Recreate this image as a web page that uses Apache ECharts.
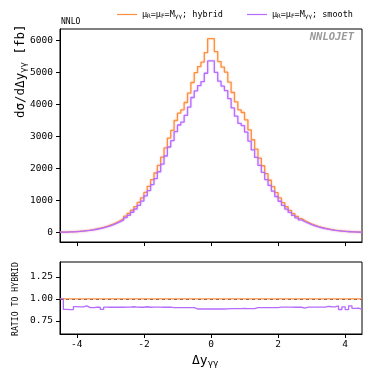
<!DOCTYPE html>
<html>
<head>
<meta charset="utf-8">
<script src="https://cdn.jsdelivr.net/npm/echarts@6/dist/echarts.min.js"></script>
<style>
html,body{margin:0;padding:0;background:#fff;}
#chart{width:374px;height:382px;}
</style>
</head>
<body>
<div id="chart"></div>
<script>
// ---- data ----
// bins of width 0.1 from -4.5 to 4.5 (90 bins)
const binLow = -4.5;
const binWidth = 0.1;
const nBins = 90;
// dσ/dΔy_γγ [fb], hybrid scale choice
const hybrid = [
  7, 10, 14, 19, 25, 33, 43, 55, 69, 86,
  106, 130, 158, 190, 226, 268, 315, 370, 430, 505,
  590, 690, 805, 935, 1080, 1250, 1440, 1647, 1856, 2094,
  2356, 2640, 2950, 3188, 3500, 3731, 3834, 4063, 4356, 4688,
  5000, 5188, 5325, 5625, 6060,
  6060, 5656, 5344, 5170, 5013, 4700, 4375, 4084, 3834, 3750,
  3522, 3209, 2897, 2606, 2325, 2084, 1834, 1630, 1430, 1245,
  1075, 930, 800, 688, 588, 502, 430, 370, 316, 268,
  226, 190, 158, 131, 107, 87, 70, 55, 43, 33,
  26, 19, 14, 10, 7
];
// dσ/dΔy_γγ [fb], smooth scale choice
const smooth = [
  7, 8.8, 12.3, 16.7, 22.8, 30.0, 39.1, 50.6, 62.1, 77.4,
  95.9, 117.7, 139, 172, 204.5, 242.5, 285, 335, 389, 457,
  534, 628, 729, 846, 977, 1138, 1303, 1491, 1680, 1895,
  2132, 2389, 2670, 2869, 3150, 3358, 3451, 3657, 3920, 4219,
  4425, 4591, 4713, 4978, 5363,
  5363, 5006, 4729, 4575, 4437, 4183, 3894, 3635, 3412, 3338,
  3135, 2856, 2578, 2345, 2093, 1876, 1651, 1467, 1287, 1121,
  973, 842, 724, 623, 532, 454, 389, 331, 286, 243,
  205, 172, 143, 118.6, 97.9, 79.2, 63.7, 50.6, 37.8, 30.0,
  22.8, 17.5, 12.5, 8.95, 6.16
];
const xTicks = [-4, -2, 0, 2, 4];
const yTicksMain = [0, 1000, 2000, 3000, 4000, 5000, 6000];
const yTicksRatio = [0.75, 1.00, 1.25];

// ---- build ----
const edges = [];
for (let i = 0; i <= nBins; i++) edges.push(+(binLow + i * binWidth).toFixed(2));
function stepPts(vals) {
  const pts = vals.map((v, i) => [edges[i], v]);
  pts.push([edges[nBins], vals[nBins - 1]]);
  return pts;
}
const ratioHybrid = hybrid.map((v, i) => v / hybrid[i]);
const ratioSmooth = smooth.map((v, i) => v / hybrid[i]);

const ORANGE = '#ff8f3f';
const PURPLE = '#b56cff';
const FONT = 'DejaVu Sans Mono';

const chart = echarts.init(document.getElementById('chart'), null, {renderer: 'canvas'});

const legendRich = {
  a: {fontFamily: FONT, fontSize: 8.5, color: '#000'},
  s: {fontFamily: FONT, fontSize: 6, color: '#000', verticalAlign: 'bottom', padding: [4, 0, 0, 0]}
};

const option = {
  animation: false,
  backgroundColor: '#fff',
  legend: {
    top: 5, left: 112,
    itemWidth: 20, itemHeight: 8, itemGap: 24,
    icon: 'path://M0,3.4L20,3.4L20,4.6L0,4.6Z',
    textStyle: {fontFamily: FONT, fontSize: 8.5, rich: legendRich},
    data: ['hybrid', 'smooth'],
    formatter: function (n) {
      return '{a|μ}{s|R}{a|=μ}{s|F}{a|=M}{s|γγ}{a|; ' + n + '}';
    }
  },
  grid: [
    {left: 60, top: 29, width: 302, height: 213, show: true, borderColor: '#000', borderWidth: 1, backgroundColor: 'transparent'},
    {left: 60, top: 262, width: 302, height: 72, show: true, borderColor: '#000', borderWidth: 1, backgroundColor: 'transparent'}
  ],
  xAxis: [
    {gridIndex: 0, type: 'value', min: -4.5, max: 4.5,
     axisLine: {show: true, onZero: false, lineStyle: {color: '#000'}},
     axisTick: {show: true, length: 4, customValues: xTicks, lineStyle: {color: '#000'}},
     axisLabel: {show: false, customValues: xTicks},
     splitLine: {show: false}},
    {gridIndex: 1, type: 'value', min: -4.5, max: 4.5,
     axisLine: {show: true, onZero: false, lineStyle: {color: '#000'}},
     axisTick: {show: true, length: 4, customValues: xTicks, lineStyle: {color: '#000'}},
     axisLabel: {show: true, customValues: xTicks, fontFamily: FONT, fontSize: 9.5, color: '#000', margin: 6,
                 formatter: v => String(v)},
     splitLine: {show: false}}
  ],
  yAxis: [
    {gridIndex: 0, type: 'value', min: -303, max: 6363,
     axisLine: {show: true, onZero: false, lineStyle: {color: '#000'}},
     axisTick: {show: true, length: 4, customValues: yTicksMain, lineStyle: {color: '#000'}},
     axisLabel: {show: true, customValues: yTicksMain, fontFamily: FONT, fontSize: 9.5, color: '#000', margin: 7,
                 formatter: v => String(v)},
     splitLine: {show: false}},
    {gridIndex: 1, type: 'value', min: 0.6, max: 1.42,
     axisLine: {show: true, onZero: false, lineStyle: {color: '#000'}},
     axisTick: {show: true, length: 4, customValues: yTicksRatio, lineStyle: {color: '#000'}},
     axisLabel: {show: true, customValues: yTicksRatio, fontFamily: FONT, fontSize: 9.5, color: '#000', margin: 7,
                 formatter: v => v.toFixed(2)},
     splitLine: {show: false}}
  ],
  series: [
    {name: 'hybrid', type: 'line', xAxisIndex: 0, yAxisIndex: 0, step: 'end', showSymbol: false,
     data: stepPts(hybrid), color: ORANGE,
     lineStyle: {color: ORANGE, width: 1.3, shadowColor: 'rgba(255,143,63,0.45)', shadowBlur: 2}},
    {name: 'smooth', type: 'line', xAxisIndex: 0, yAxisIndex: 0, step: 'end', showSymbol: false,
     data: stepPts(smooth), color: PURPLE,
     lineStyle: {color: PURPLE, width: 1.3, shadowColor: 'rgba(181,108,255,0.45)', shadowBlur: 2}},
    {name: 'hybrid', type: 'line', xAxisIndex: 1, yAxisIndex: 1, step: 'end', showSymbol: false,
     data: stepPts(ratioHybrid), color: ORANGE,
     lineStyle: {color: ORANGE, width: 1.3},
     markLine: {silent: true, symbol: 'none', label: {show: false},
                lineStyle: {color: 'rgba(110,70,50,0.7)', type: [3, 3], width: 1},
                data: [{yAxis: 1}]}},
    {name: 'smooth', type: 'line', xAxisIndex: 1, yAxisIndex: 1, step: 'end', showSymbol: false,
     data: stepPts(ratioSmooth), color: PURPLE,
     lineStyle: {color: PURPLE, width: 1.3}}
  ],
  graphic: [
    {type: 'text', left: 61, top: 18,
     style: {text: 'NNLO', fontFamily: FONT, fontSize: 8, fill: '#000'}},
    {type: 'text', right: 20, top: 32,
     style: {text: 'NNLOJET', fontFamily: FONT, fontSize: 10.5, fontWeight: 'bold', fontStyle: 'italic', fill: '#999'}},
    {type: 'text', x: 13, y: 118, rotation: Math.PI / 2,
     style: {text: '{a|dσ/dΔy}{s|γγ}{a| [fb]}', fontFamily: FONT, fill: '#000',
             rich: {a: {fontFamily: FONT, fontSize: 12.5, color: '#000'},
                    s: {fontFamily: FONT, fontSize: 9, color: '#000', verticalAlign: 'bottom', padding: [6, 0, 0, 0]}}}},
    {type: 'text', x: 12, y: 336, rotation: Math.PI / 2,
     style: {text: 'RATIO TO HYBRID', fontFamily: FONT, fontSize: 8.2, fill: '#000'}},
    {type: 'text', left: 192, top: 354,
     style: {text: '{a|Δy}{s|γγ}', fontFamily: FONT, fill: '#000',
             rich: {a: {fontFamily: FONT, fontSize: 13, color: '#000'},
                    s: {fontFamily: FONT, fontSize: 9, color: '#000', verticalAlign: 'bottom', padding: [7, 0, 0, 0]}}}}
  ]
};
chart.setOption(option);
</script>
</body>
</html>
